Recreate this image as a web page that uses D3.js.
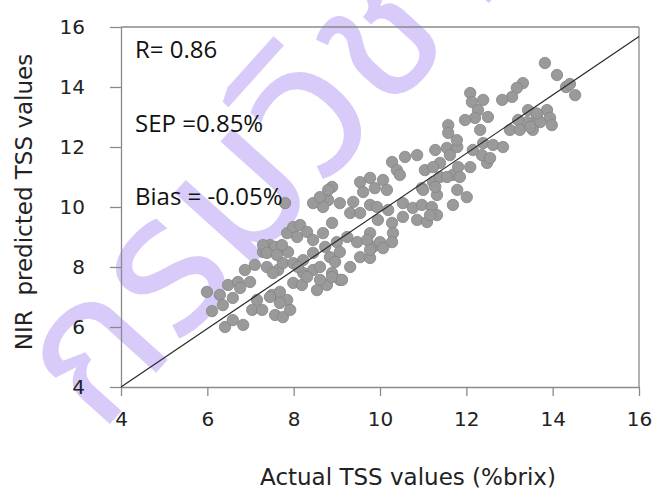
<!DOCTYPE html>
<html>
<head>
<meta charset="utf-8">
<script src="https://cdn.jsdelivr.net/npm/d3@7"></script>
<style>
  html, body { margin: 0; padding: 0; background: #fff; }
  svg { display: block; }
</style>
</head>
<body>
<script>
// ---- data ----
const actualTSS = [
  5.99,6.11,6.29,6.36,6.48,6.59,6.71,6.76,6.87,6.99,7.10,7.15,6.41,6.59,6.83,7.04,
  7.29,7.45,7.38,7.64,7.50,7.68,7.85,7.57,7.75,7.92,7.85,7.99,7.75,7.99,7.87,7.27,
  7.61,7.52,7.45,
  7.68,7.99,8.19,8.22,8.45,8.61,8.54,8.77,8.89,9.07,9.31,
  8.89,9.54,9.77,8.45,8.80,9.07,9.38,9.61,7.80,8.15,8.31,8.89,8.68,9.31,9.54,9.77,
  7.57,8.45,8.73,9.00,9.24,9.47,9.77,9.84,8.22,8.45,8.84,9.07,8.10,8.96,9.54,9.77,
  8.31,8.61,8.89,9.12,
  11.58,11.58,11.28,11.55,11.79,10.86,10.58,10.28,10.39,10.46,11.04,11.39,11.62,
  9.88,10.07,10.16,10.97,11.23,11.39,11.69,11.32,11.79,9.93,10.19,10.53,10.76,10.97,
  11.20,11.32,11.69,9.95,10.28,10.53,10.86,11.09,10.30,
  11.23,11.81,12.09,12.48,11.55,11.85,11.28,11.00,12.01,11.16,
  13.82,14.10,13.31,13.17,13.06,12.83,12.09,12.13,12.39,12.27,12.50,12.20,11.97,12.32,
  13.43,13.64,13.87,13.94,13.71,13.41,13.20,13.98,13.01,13.24,13.54,11.78,12.39,12.62,
  12.85,12.36,12.55,12.15,14.31,14.40,14.52,13.63,13.48,
  9.70,10.00,10.28,9.77,10.07,
  8.08,7.29,7.73,7.38,7.61,8.68,8.61,8.80
];
const predictedTSS = [
  7.17,6.53,7.07,6.73,7.40,6.97,7.50,7.30,7.90,7.50,8.07,6.90,6.00,6.23,6.07,6.57,
  8.50,8.73,8.00,7.90,7.07,7.17,6.90,6.40,6.33,6.57,9.13,9.33,8.13,8.13,8.50,6.57,
  8.51,7.80,7.00,
  6.80,7.47,7.40,7.80,7.90,8.00,7.23,7.40,7.80,7.57,8.00,
  10.67,10.83,10.97,10.13,10.23,10.13,10.17,10.50,10.13,9.40,9.17,9.47,9.13,9.80,9.80,10.07,
  8.67,8.90,8.67,8.83,9.00,8.83,9.13,8.67,8.23,8.47,8.33,8.50,8.00,8.17,8.33,8.30,
  7.67,7.57,7.67,7.57,
  12.73,12.47,11.90,11.97,12.00,11.73,11.67,11.50,11.23,11.07,11.23,11.47,11.73,
  10.63,10.90,10.57,10.63,10.83,11.00,11.07,10.40,10.57,10.00,9.90,10.13,9.97,10.07,
  10.00,9.73,10.07,9.57,9.47,9.67,9.57,9.50,9.13,
  11.33,11.33,11.33,11.47,11.00,11.00,10.67,10.57,10.33,9.73,
  14.80,14.40,14.13,13.97,13.67,13.57,13.80,13.50,13.57,13.23,13.00,12.97,12.90,12.57,
  13.23,13.00,13.23,12.97,12.83,12.83,12.90,12.73,12.57,12.57,12.57,12.23,12.13,12.07,
  12.00,11.73,11.63,11.90,14.00,14.10,13.73,13.12,12.67,
  8.90,8.83,8.83,8.57,8.63,
  9.00,8.73,8.73,8.47,8.40,10.00,10.33,10.57
];
const fitLineX = [4, 16];
const fitLineY = [4, 15.68];
const xTicks = [4, 6, 8, 10, 12, 14, 16];
const yTicks = [4, 6, 8, 10, 12, 14, 16];
const statLabels = ["R= 0.86", "SEP =0.85%", "Bias = -0.05%"];
const xTitle = "Actual TSS values (%brix)";
const yTitle = "NIR  predicted TSS values";
const watermark = "กรมวิชาการ";

// ---- layout ----
const W = 657, H = 489;
const M = { left: 121, top: 27, right: 657 - 639, bottom: 489 - 387 };

const svg = d3.select("body").append("svg").attr("width", W).attr("height", H);

const x = d3.scaleLinear().domain([4, 16]).range([M.left, W - M.right]);
const y = d3.scaleLinear().domain([4, 16]).range([H - M.bottom, M.top]);

// watermark (behind everything)
svg.append("text")
  .attr("transform", "translate(100,435) rotate(-48)")
  .attr("font-family", "'Noto Sans Thai', 'Noto Sans', 'DejaVu Sans', sans-serif")
  .attr("font-size", 195)
  .attr("font-weight", "normal")
  .attr("fill", "#d8cbfa")
  .text(watermark);

const axisColor = "#8a8a8a";

// x axis
const gx = svg.append("g")
  .attr("transform", `translate(0,${H - M.bottom})`)
  .call(d3.axisBottom(x).tickValues(xTicks).tickSize(9).tickSizeOuter(0).tickPadding(16));
// y axis
const gy = svg.append("g")
  .attr("transform", `translate(${M.left},0)`)
  .call(d3.axisLeft(y).tickValues(yTicks).tickSize(11).tickSizeOuter(0).tickPadding(25));

[gx, gy].forEach(g => {
  g.select(".domain").attr("stroke", axisColor).attr("stroke-width", 1.3);
  g.selectAll(".tick line").attr("stroke", axisColor).attr("stroke-width", 1.3);
  g.selectAll(".tick text")
    .attr("fill", "#222")
    .attr("font-family", "'DejaVu Sans', Verdana, sans-serif")
    .attr("font-size", 20);
});

// top and right frame
svg.append("line")
  .attr("x1", x(4)).attr("x2", x(16)).attr("y1", y(16)).attr("y2", y(16))
  .attr("stroke", axisColor).attr("stroke-width", 1.3);
svg.append("line")
  .attr("x1", x(16)).attr("x2", x(16)).attr("y1", y(16)).attr("y2", y(4))
  .attr("stroke", axisColor).attr("stroke-width", 1.3);

// points
const pts = actualTSS.map((a, i) => ({ a, p: predictedTSS[i] }));
svg.append("g").selectAll("circle").data(pts).join("circle")
  .attr("cx", d => x(d.a))
  .attr("cy", d => y(d.p))
  .attr("r", 5.7)
  .attr("fill", "#9a9a9a")
  .attr("stroke", "#858585")
  .attr("stroke-width", 0.8);

// fit line
svg.append("line")
  .attr("x1", x(fitLineX[0])).attr("y1", y(fitLineY[0]))
  .attr("x2", x(fitLineX[1])).attr("y2", y(fitLineY[1]))
  .attr("stroke", "#2a2a2a").attr("stroke-width", 1.2);

// stats labels
const statY = [57.5, 132, 205];
svg.append("g").selectAll("text").data(statLabels).join("text")
  .attr("x", 135)
  .attr("y", (d, i) => statY[i])
  .attr("font-family", "'Open Sans', sans-serif")
  .attr("font-size", 24)
  .attr("fill", "#111")
  .text(d => d);

// axis titles
svg.append("text")
  .attr("x", 408).attr("y", 485)
  .attr("text-anchor", "middle")
  .attr("font-family", "'DejaVu Sans', Verdana, sans-serif")
  .attr("font-size", 23)
  .attr("fill", "#222")
  .text(xTitle);

svg.append("text")
  .attr("transform", "translate(32,202) rotate(-90)")
  .attr("text-anchor", "middle")
  .attr("font-family", "'DejaVu Sans', Verdana, sans-serif")
  .attr("font-size", 23)
  .attr("fill", "#222")
  .style("white-space", "pre")
  .text(yTitle);
</script>
</body>
</html>
